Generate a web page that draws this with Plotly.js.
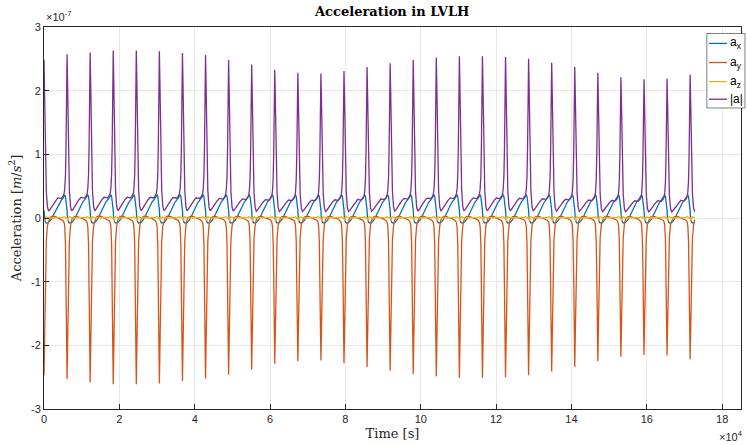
<!DOCTYPE html>
<html><head><meta charset="utf-8">
<script src="https://cdn.plot.ly/plotly-3.0.1.min.js"></script>
<style>html,body{margin:0;padding:0;background:#fff}</style>
</head><body><div id="chart" style="width:747px;height:445px"></div>
<script>
// Orbit period (s), and end time of the record
const period = 6125;
const tEnd = 173000;
// Peak |a| per orbit (1e-7 m/s^2)
const peakNorm = [2.49,2.57,2.60,2.63,2.63,2.62,2.59,2.56,2.48,2.41,2.33,2.28,2.27,2.31,2.37,2.43,2.48,2.52,2.54,2.54,2.53,2.50,2.44,2.37,2.28,2.21,2.18,2.19,2.25];
// Trough a_y per orbit (magnitude, 1e-7 m/s^2)
const troughAy = [2.47,2.53,2.58,2.61,2.61,2.60,2.56,2.52,2.46,2.38,2.29,2.25,2.24,2.28,2.34,2.40,2.45,2.49,2.51,2.51,2.50,2.47,2.41,2.34,2.25,2.18,2.15,2.16,2.22];
// One-orbit shape (phase 0 = perigee spike), reference amplitude 2.5
const phase = [0,0.02,0.045,0.07,0.1,0.15,0.2,0.25,0.3,0.4,0.5,0.6,0.68,0.75,0.82,0.87,0.9,0.93,0.955,0.98];
const shapeAx = [0.12,-0.01,-0.05,-0.07,-0.08,-0.08,-0.07,-0.05,-0.03,0.04,0.12,0.2,0.25,0.28,0.31,0.34,0.36,0.34,0.28,0.2];
const shapeAy = [-2.5,-2.05,-1.3,-0.75,-0.35,-0.12,-0.03,0.0,0.02,0.03,0.02,0.0,-0.01,-0.02,-0.04,-0.07,-0.14,-0.4,-1.0,-1.8];
const shapeAz = [0.0,-0.03,-0.04,0.01,0.02,0.01,0.0,0.0,0.0,0.0,0.01,0.0,0.0,0.0,0.01,0.02,0.02,0.01,0.0,0.0];
const shapeNorm = [2.5,2.1,1.35,0.8,0.42,0.17,0.11,0.13,0.16,0.22,0.27,0.31,0.30,0.30,0.33,0.37,0.45,0.65,1.1,1.9];
const refAmp = 2.5;
const names = ['a<sub>x</sub>','a<sub>y</sub>','a<sub>z</sub>','|a|'];
const colors = ['#0072BD','#D95319','#EDB120','#7E2F8E'];

const t=[], ax=[], ay=[], az=[], an=[];
for (let k=0;k<peakNorm.length;k++){
  for (let i=0;i<phase.length;i++){
    const tt=(k+phase[i])*period;
    if (tt>tEnd) break;
    const j = (phase[i]<0.5 || k+1>=peakNorm.length) ? k : k+1;
    t.push(tt);
    ax.push(shapeAx[i]*1e-7);
    az.push(shapeAz[i]*1e-7);
    ay.push(shapeAy[i]*troughAy[j]/refAmp*1e-7);
    an.push(shapeNorm[i]*peakNorm[j]/refAmp*1e-7);
  }
}
const series=[ax,ay,az,an];
const traces=series.map((s,i)=>({x:t,y:s,type:'scatter',mode:'lines',name:names[i],showlegend:false,
  line:{color:colors[i],width:1.3}}));

// hand-drawn legend (MATLAB-style compact box)
const legY=[0.957,0.907,0.857,0.811];
const shapes=[{type:'rect',xref:'paper',yref:'paper',x0:0.951,x1:1.0057,y0:0.788,y1:0.983,
  line:{color:'#262626',width:0.6},fillcolor:'#fff',layer:'above'}];
const legAnn=[];
legY.forEach((yy,i)=>{
  shapes.push({type:'line',xref:'paper',yref:'paper',x0:0.954,x1:0.980,y0:yy,y1:yy,line:{color:colors[i],width:1.3},layer:'above'});
  legAnn.push({text:names[i],xref:'paper',yref:'paper',x:0.982,y:yy,xanchor:'left',yanchor:'middle',showarrow:false,
    font:{family:'Liberation Sans, Arial, sans-serif',size:12,color:'#000'}});
});

const xt=[0,2,4,6,8,10,12,14,16,18];
const yt=[-3,-2,-1,0,1,2,3];
const axisCommon={showline:true,mirror:true,linecolor:'#262626',linewidth:1,ticks:'inside',ticklen:5,
  tickcolor:'#262626',showgrid:true,gridcolor:'#e8e8e8',zeroline:false,
  tickfont:{family:'Liberation Sans, Arial, sans-serif',size:11,color:'#262626'}};
const layout={
  width:747,height:445,margin:{l:44,r:6,t:27,b:36},
  paper_bgcolor:'#fff',plot_bgcolor:'#fff',showlegend:false,
  title:{text:'<b>Acceleration in LVLH</b>',font:{family:'DejaVu Serif, serif',size:13,color:'#000'},x:0.525,xanchor:'center',y:0.985,yanchor:'top'},
  xaxis:Object.assign({},axisCommon,{range:[0,185000],tickvals:xt.map(v=>v*1e4),ticktext:xt.map(String),
    title:{text:'Time [s]',font:{family:'DejaVu Serif, serif',size:13,color:'#262626'},standoff:4}}),
  yaxis:Object.assign({},axisCommon,{range:[-3e-7,3e-7],tickvals:yt.map(v=>v*1e-7),ticktext:yt.map(String),
    title:{text:'Acceleration [<i>m</i>/<i>s</i><sup>2</sup>]',font:{family:'DejaVu Serif, serif',size:13,color:'#262626'},standoff:6}}),
  shapes:shapes,
  annotations:[
    {text:'×10<sup>-7</sup>',xref:'paper',yref:'paper',x:0,y:1,xanchor:'left',yanchor:'bottom',showarrow:false,yshift:2,
     font:{family:'Liberation Sans, Arial, sans-serif',size:11,color:'#262626'}},
    {text:'×10<sup>4</sup>',xref:'paper',yref:'paper',x:1,y:0,xanchor:'right',yanchor:'top',showarrow:false,yshift:-18,xshift:4,
     font:{family:'Liberation Sans, Arial, sans-serif',size:11,color:'#262626'}}
  ].concat(legAnn)
};
Plotly.newPlot('chart',traces,layout,{displayModeBar:false,staticPlot:true});
</script></body></html>
